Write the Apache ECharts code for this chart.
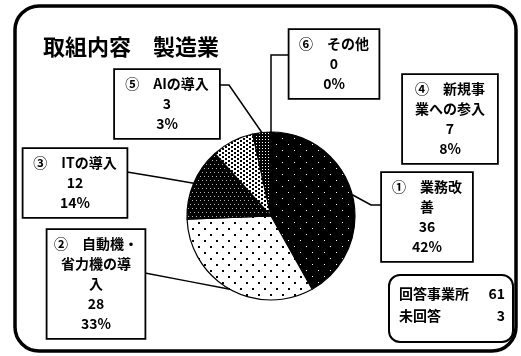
<!DOCTYPE html>
<html>
<head>
<meta charset="utf-8">
<script src="https://cdn.jsdelivr.net/npm/echarts@6/dist/echarts.min.js"></script>
<style>
  html, body { margin: 0; padding: 0; background: #fff; }
  #chart { width: 521px; height: 356px; }
</style>
</head>
<body>
<div id="chart"></div>
<script>
// ---- data ----
const chartTitle = '取組内容　製造業';
const categories = ['業務改善', '自動機・省力機の導入', 'ITの導入', '新規事業への参入', 'AIの導入', 'その他'];
const markers = ['①', '②', '③', '④', '⑤', '⑥'];
const counts = [36, 28, 12, 7, 3, 0];
const respondents = 61;
const noAnswer = 3;

// where each category name wraps inside its callout (character offsets)
const nameBreaks = [[3], [4, 9], [], [3], [], []];

// ---- layout / styling ----
const FONT = '"Noto Sans CJK JP", "Noto Sans", sans-serif';
// callout boxes: centre, content width, and where the leader line meets the box
const calloutBoxes = [
  { cx: 427, cy: 217, w: 90,  end: [382, 205], bend: [371, 205] },
  { cx: 96,  cy: 284, w: 97,  end: [145, 273], bend: null },
  { cx: 75,  cy: 183, w: 103, end: [127, 172], bend: null },
  { cx: 450, cy: 119, w: 94,  end: null,       bend: null },
  { cx: 167, cy: 104, w: 104, end: [219, 85],  bend: [229, 85] },
  { cx: 334, cy: 64,  w: 89,  end: [289, 55],  bend: 'vertical' }
];

function makePattern(w, h, bg, fg, dots) {
  const c = document.createElement('canvas');
  c.width = w; c.height = h;
  const g = c.getContext('2d');
  g.fillStyle = bg; g.fillRect(0, 0, w, h);
  g.fillStyle = fg;
  dots.forEach(d => g.fillRect(d[0], d[1], d[2], d[3]));
  return { image: c, repeat: 'repeat' };
}

const fills = [
  makePattern(12, 12, '#000', '#fff', [[0, 0, 1, 1], [6, 6, 1, 1]]),
  makePattern(12, 12, '#fff', '#000', [[0, 0, 2, 2], [6, 6, 2, 2]]),
  makePattern(8, 8, '#000', '#b0b0b0', [[0, 0, 1, 1], [4, 0, 1, 1], [2, 4, 1, 1], [6, 4, 1, 1]]),
  makePattern(6, 4, '#fff', '#000', [[0, 0, 2, 2], [3, 2, 2, 2]]),
  makePattern(3, 3, '#000', '#fff', [[1, 1, 1, 1]]),
  '#000'
];

function wrapName(i) {
  const name = markers[i] + '　' + categories[i];
  const cuts = nameBreaks[i].map(k => k + 2);
  let out = '', prev = 0;
  cuts.forEach(k => { out += name.slice(prev, k) + '\n'; prev = k; });
  return out + name.slice(prev);
}

const pieData = categories.map((name, i) => ({
  name: name,
  value: counts[i],
  itemStyle: { color: fills[i] },
  label: { width: calloutBoxes[i].w - 8 },
  labelLine: { show: calloutBoxes[i].end !== null }
}));

const chart = echarts.init(document.getElementById('chart'), null, { renderer: 'canvas' });

chart.setOption({
  animation: false,
  backgroundColor: '#fff',
  title: {
    text: chartTitle,
    left: 38,
    top: 31,
    textStyle: { fontFamily: FONT, fontSize: 22, fontWeight: 'bold', color: '#000' }
  },
  series: [{
    type: 'pie',
    center: [271, 216],
    radius: 84,
    startAngle: 90,
    clockwise: true,
    avoidLabelOverlap: false,
    data: pieData,
    itemStyle: { borderColor: '#000', borderWidth: 1.2 },
    emphasis: { disabled: true },
    label: {
      show: true,
      position: 'outside',
      formatter: p => wrapName(p.dataIndex) + '\n' + p.value + '\n' + Math.round(p.percent) + '%',
      fontFamily: FONT,
      fontSize: 14,
      fontWeight: 'bold',
      color: '#000',
      lineHeight: 20,
      align: 'center',
      padding: [4, 4],
      backgroundColor: '#fff',
      borderColor: '#000',
      borderWidth: 1.8
    },
    labelLine: {
      show: true,
      length: 10,
      length2: 10,
      lineStyle: { color: '#000', width: 1.5 }
    },
    labelLayout: function (params) {
      const b = calloutBoxes[params.dataIndex];
      const out = { x: b.cx, y: b.cy, align: 'center', verticalAlign: 'middle' };
      const pts = params.labelLinePoints;
      if (b.end && pts && pts.length) {
        // start on the slice's outer edge (from the pie layout), finish on the box
        const start = pts[0];
        let bend = b.bend;
        if (bend === 'vertical') bend = [start[0], b.end[1]];
        if (!bend) bend = [(start[0] + b.end[0]) / 2, (start[1] + b.end[1]) / 2];
        out.labelLinePoints = [start, bend, b.end];
      }
      return out;
    }
  }],
  graphic: [
    {
      type: 'rect',
      shape: { x: 15, y: 6, width: 501, height: 345, r: 24 },
      style: { fill: 'none', stroke: '#000', lineWidth: 3.5 },
      z: 10
    },
    {
      type: 'group',
      left: 388,
      top: 274,
      children: [
        {
          type: 'rect',
          shape: { x: 0, y: 0, width: 124, height: 67, r: 11 },
          style: { fill: '#fff', stroke: '#000', lineWidth: 2 }
        },
        {
          type: 'text', x: 10, y: 19,
          style: { text: '回答事業所', font: 'bold 14px ' + FONT, fill: '#000', textVerticalAlign: 'middle' }
        },
        {
          type: 'text', x: 116, y: 19,
          style: { text: String(respondents), font: 'bold 14px ' + FONT, fill: '#000', textAlign: 'right', textVerticalAlign: 'middle' }
        },
        {
          type: 'text', x: 10, y: 41,
          style: { text: '未回答', font: 'bold 14px ' + FONT, fill: '#000', textVerticalAlign: 'middle' }
        },
        {
          type: 'text', x: 116, y: 41,
          style: { text: String(noAnswer), font: 'bold 14px ' + FONT, fill: '#000', textAlign: 'right', textVerticalAlign: 'middle' }
        }
      ]
    }
  ]
});
</script>
</body>
</html>
